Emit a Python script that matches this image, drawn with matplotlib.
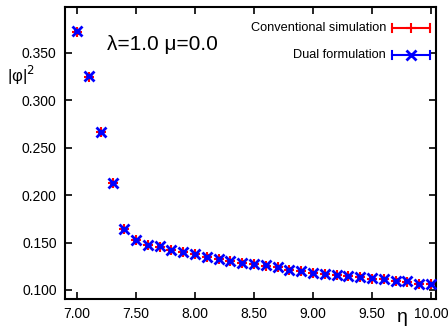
import numpy as np
import matplotlib
matplotlib.use("Agg")
import matplotlib.pyplot as plt
from matplotlib.lines import Line2D

plt.rcParams['font.family'] = ['Liberation Sans', 'DejaVu Sans']

n_vals = [7.0, 7.1, 7.2, 7.3, 7.4, 7.5, 7.6, 7.7, 7.8, 7.9, 8.0, 8.1, 8.2, 8.3, 8.4,
          8.5, 8.6, 8.7, 8.8, 8.9, 9.0, 9.1, 9.2, 9.3, 9.4, 9.5, 9.6, 9.7, 9.8, 9.9, 10.0]
dual = [0.373, 0.326, 0.267, 0.213, 0.1645, 0.153, 0.1478, 0.146, 0.1423, 0.140,
        0.1377, 0.1352, 0.133, 0.1305, 0.129, 0.1275, 0.126, 0.1243, 0.1215, 0.1198,
        0.1177, 0.117, 0.116, 0.115, 0.114, 0.1122, 0.1115, 0.1098, 0.109, 0.1067, 0.106]
conv = [0.372, 0.325, 0.2665, 0.2125, 0.164, 0.1525, 0.1475, 0.1457, 0.142, 0.1397,
        0.1375, 0.135, 0.1328, 0.1303, 0.1288, 0.1273, 0.1258, 0.1241, 0.1213, 0.1196,
        0.1175, 0.1168, 0.1158, 0.1148, 0.1138, 0.112, 0.1113, 0.1096, 0.1088, 0.1065, 0.1058]
conv_err = [0.0015] * len(n_vals)
dual_err = [0.001] * len(n_vals)

x_ticks = [7.0, 7.5, 8.0, 8.5, 9.0, 9.5, 10.0]
y_ticks = [0.10, 0.15, 0.20, 0.25, 0.30, 0.35]
labels = ['Conventional simulation', 'Dual formulation']

fig = plt.figure(figsize=(4.48, 3.26), dpi=100)
ax = fig.add_axes([65/448, 1-299/326, (436-65)/448, (299-7)/326])

ax.errorbar(n_vals, conv, yerr=conv_err, fmt='+', color='#ff0000', ms=7, mew=1.5,
            elinewidth=1.2, capsize=2, zorder=2)
ax.errorbar(n_vals, dual, yerr=dual_err, fmt='x', color='#0000ff', ms=6.5, mew=2,
            elinewidth=1.2, capsize=2, zorder=3)

ax.set_xlim(6.897, 10.043)
ax.set_ylim(0.0905, 0.3985)
ax.set_xticks(x_ticks)
ax.set_xticklabels([f'{v:.2f}' for v in x_ticks])
ax.set_yticks(y_ticks)
ax.set_yticklabels([f'{v:.3f}' for v in y_ticks])
ax.tick_params(direction='in', top=True, right=True, length=5, width=1.2,
               labelsize=10, pad=6)
for s in ax.spines.values():
    s.set_linewidth(1.5)

fig.text(107/448, 1-45/326, 'λ=1.0 μ=0.0', fontsize=15, va='center', ha='left')
fig.text(7/448, 1-75/326, '|φ|$^2$', fontsize=12, va='center', ha='left')
fig.text(397/448, 1-318/326, 'η', fontsize=14, va='center', ha='left')

# legend drawn gnuplot-style (horizontal error bar sample)
leg_rows = [(1-28/326, '#ff0000', '+', 7, 1.5), (1-55/326, '#0000ff', 'x', 6.5, 2)]
for (yf, col, mk, ms, mew), lab in zip(leg_rows, labels):
    fig.text(386/448, yf, lab, fontsize=9.2, ha='right', va='center')
    fig.add_artist(Line2D([392/448, 430/448], [yf, yf], color=col, lw=1.5,
                          transform=fig.transFigure))
    for xe in (392/448, 430/448):
        fig.add_artist(Line2D([xe, xe], [yf - 4/326, yf + 4/326], color=col, lw=1.5,
                              transform=fig.transFigure))
    fig.add_artist(Line2D([411/448], [yf], marker=mk, color=col, ms=ms, mew=mew,
                          transform=fig.transFigure))

fig.savefig('out.png', dpi=100)
